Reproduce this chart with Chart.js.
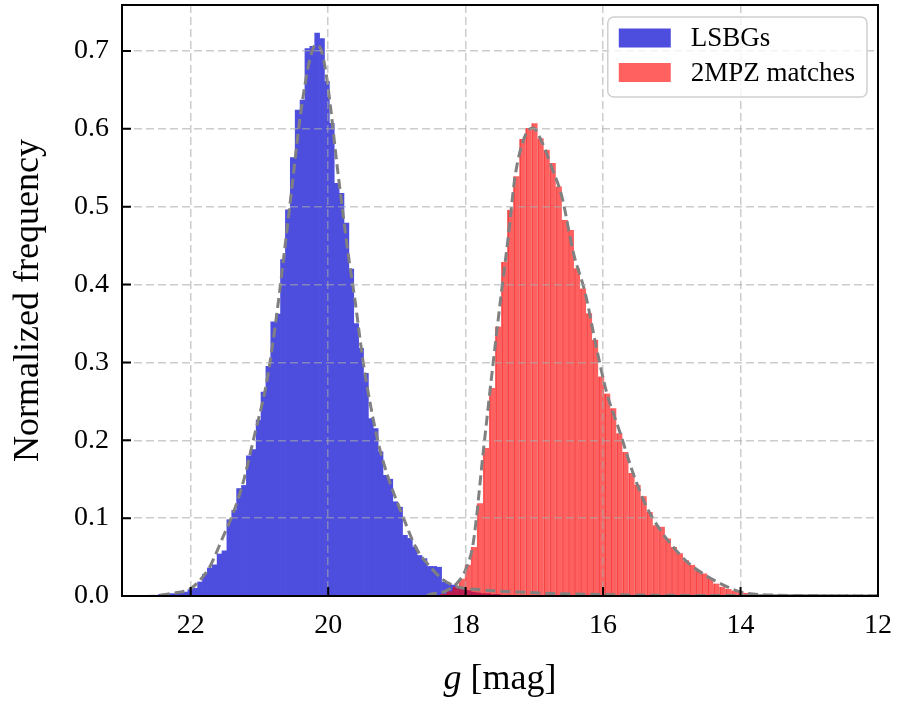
<!DOCTYPE html>
<html lang="en">
<head>
<meta charset="UTF-8">
<title>g magnitude distributions</title>
<script src="https://cdn.jsdelivr.net/npm/chart.js"></script>
<style>
  body { margin: 0; background: #fff; }
</style>
</head>
<body>
<canvas id="magChart" width="899" height="707"></canvas>
<script>
// LSBGs histogram: bins start at the faint end and step towards brighter mags
const lsbgStart = 22.61;
const lsbgBinWidth = 0.071;
const lsbgHeights = [
  0.001, 0.001, 0.002, 0.002, 0.003, 0.003, 0.004, 0.005, 0.008, 0.010,
  0.018, 0.028, 0.036, 0.040, 0.054, 0.058, 0.098, 0.110, 0.138, 0.142,
  0.180, 0.188, 0.226, 0.262, 0.295, 0.352, 0.362, 0.432, 0.496, 0.563,
  0.624, 0.637, 0.703, 0.706, 0.723, 0.716, 0.661, 0.607, 0.530, 0.517,
  0.479, 0.420, 0.350, 0.318, 0.286, 0.228, 0.215, 0.185, 0.155, 0.150,
  0.121, 0.114, 0.078, 0.074, 0.063, 0.052, 0.048, 0.038, 0.038, 0.037,
  0.018, 0.016, 0.014, 0.011, 0.009, 0.007, 0.005, 0.004, 0.003, 0.003,
  0.002, 0.002, 0.001, 0.001
];

// 2MPZ matches histogram
const mpzStart = 18.364;
const mpzBinWidth = 0.0882;
const mpzHeights = [
  0.003, 0.006, 0.012, 0.022, 0.040, 0.063, 0.119, 0.190, 0.267, 0.346,
  0.429, 0.496, 0.539, 0.587, 0.601, 0.607, 0.588, 0.573, 0.556, 0.526,
  0.483, 0.470, 0.421, 0.395, 0.363, 0.329, 0.282, 0.260, 0.241, 0.209,
  0.185, 0.158, 0.143, 0.128, 0.108, 0.091, 0.089, 0.074, 0.063, 0.055,
  0.046, 0.040, 0.033, 0.029, 0.023, 0.016, 0.012, 0.009, 0.007, 0.0055,
  0.004, 0.003, 0.002, 0.002, 0.0015, 0.001, 0.001, 0.001, 0.0008, 0.0005
];

// dashed density curves
const lsbgCurveMag = [22.45, 22.30, 22.01, 21.87, 21.72, 21.53, 21.385, 21.24, 21.09, 20.89,
  20.76, 20.56, 20.40, 20.27, 20.18, 20.09, 20.00, 19.86, 19.71, 19.61,
  19.49, 19.28, 19.13, 18.93, 18.71, 18.52, 18.33, 18.13, 17.79, 17.21,
  16.63, 15.75, 14.59, 13.14, 12.00];
const lsbgCurveVal = [0.001, 0.003, 0.009, 0.020, 0.038, 0.076, 0.106, 0.145, 0.200, 0.277,
  0.354, 0.500, 0.620, 0.688, 0.708, 0.698, 0.652, 0.545, 0.440, 0.380,
  0.300, 0.200, 0.153, 0.106, 0.060, 0.038, 0.021, 0.012, 0.008, 0.005,
  0.003, 0.0015, 0.0007, 0.0003, 0.0001];

const mpzCurveMag = [18.56, 18.52, 18.30, 18.11, 17.995, 17.89, 17.74, 17.60, 17.475, 17.38,
  17.28, 17.14, 17.02, 16.89, 16.75, 16.60, 16.43, 16.26, 16.09, 15.95,
  15.75, 15.565, 15.37, 15.17, 14.98, 14.78, 14.59, 14.40, 14.20, 14.01,
  13.82, 13.43, 12.84, 12.00];
const mpzCurveVal = [0.0005, 0.002, 0.006, 0.018, 0.035, 0.068, 0.188, 0.299, 0.393, 0.461,
  0.539, 0.590, 0.601, 0.583, 0.551, 0.513, 0.440, 0.389, 0.316, 0.262,
  0.209, 0.158, 0.115, 0.085, 0.063, 0.044, 0.031, 0.021, 0.012, 0.0055,
  0.0025, 0.001, 0.0005, 0.0003];

const seriesNames = ['LSBGs', '2MPZ matches'];

const serif = "'Liberation Serif', 'DejaVu Serif', serif";
const gridColor = 'rgba(170,170,170,0.6)';

function binPoints(start, width, heights) {
    return heights.map((h, i) => ({ x: start - (i + 0.5) * width, y: h }));
}

function curvePoints(mags, vals) {
    return mags.map((m, i) => ({ x: m, y: vals[i] }));
}

// frame, inward ticks, x title and the boxed legend
const decor = {
    id: 'decor',
    afterDraw(chart) {
        const ctx = chart.ctx;
        const area = chart.chartArea;
        const xs = chart.scales.x;
        const ys = chart.scales.y;
        ctx.save();

        ctx.strokeStyle = '#000';
        ctx.lineWidth = 2;
        ctx.beginPath();
        xs.ticks.forEach(t => {
            const px = xs.getPixelForValue(t.value);
            ctx.moveTo(px, area.bottom);
            ctx.lineTo(px, area.bottom - 9);
        });
        ys.ticks.forEach(t => {
            const py = ys.getPixelForValue(t.value);
            ctx.moveTo(area.left, py);
            ctx.lineTo(area.left + 9, py);
        });
        ctx.stroke();
        ctx.strokeRect(area.left, area.top, area.right - area.left, area.bottom - area.top);

        // x axis title: italic g followed by the unit
        ctx.fillStyle = '#000';
        ctx.textBaseline = 'middle';
        ctx.textAlign = 'left';
        const italic = 'italic 36px ' + serif;
        const upright = '36px ' + serif;
        ctx.font = italic;
        const wg = ctx.measureText('g').width;
        ctx.font = upright;
        const wu = ctx.measureText(' [mag]').width;
        const cx = (area.left + area.right) / 2;
        const ty = area.bottom + 84;
        ctx.font = italic;
        ctx.fillText('g', cx - (wg + wu) / 2, ty);
        ctx.font = upright;
        ctx.fillText(' [mag]', cx - (wg + wu) / 2 + wg, ty);

        // legend
        const bars = chart.data.datasets.filter(d => d.type !== 'line');
        const items = seriesNames.map(n => bars.find(d => d.label === n));
        ctx.font = '27px ' + serif;
        const textW = Math.max(...items.map(d => ctx.measureText(d.label).width));
        const boxW = 11 + 52 + 20 + textW + 12;
        const boxH = 80;
        const bx = area.right - 11 - boxW;
        const by = area.top + 12;
        ctx.beginPath();
        ctx.roundRect(bx, by, boxW, boxH, 6);
        ctx.fillStyle = 'rgba(255,255,255,0.8)';
        ctx.fill();
        ctx.strokeStyle = '#d0d0d0';
        ctx.lineWidth = 1.5;
        ctx.stroke();
        items.forEach((d, i) => {
            const rowY = by + 21 + i * 34.5;
            ctx.fillStyle = d.legendColor;
            ctx.fillRect(bx + 11, rowY - 9.5, 52, 19);
            ctx.fillStyle = '#000';
            ctx.fillText(d.label, bx + 11 + 52 + 20, rowY + 1);
        });

        ctx.restore();
    }
};

const ctx = document.getElementById('magChart').getContext('2d');
new Chart(ctx, {
    type: 'bar',
    data: {
        datasets: [
            {
                type: 'line',
                label: 'LSBGs density',
                data: curvePoints(lsbgCurveMag, lsbgCurveVal),
                xAxisID: 'x',
                borderColor: 'rgb(128,128,128)',
                borderWidth: 3,
                borderDash: [10, 5],
                pointRadius: 0,
                cubicInterpolationMode: 'monotone',
                fill: false,
                order: 0
            },
            {
                type: 'line',
                label: '2MPZ density',
                data: curvePoints(mpzCurveMag, mpzCurveVal),
                xAxisID: 'x',
                borderColor: 'rgb(128,128,128)',
                borderWidth: 3,
                borderDash: [10, 5],
                pointRadius: 0,
                cubicInterpolationMode: 'monotone',
                fill: false,
                order: 0
            },
            {
                label: seriesNames[1],
                data: binPoints(mpzStart, mpzBinWidth, mpzHeights),
                xAxisID: 'x2',
                backgroundColor: 'rgba(255,0,0,0.62)',
                legendColor: 'rgba(255,0,0,0.62)',
                borderColor: 'rgba(230,0,0,0.55)',
                borderWidth: { left: 1 },
                barPercentage: 1,
                categoryPercentage: 1,
                grouped: false,
                order: 1
            },
            {
                label: seriesNames[0],
                data: binPoints(lsbgStart, lsbgBinWidth, lsbgHeights),
                xAxisID: 'x',
                // opaque tint of mediumblue at 0.7 so neighbouring bins leave no seams
                backgroundColor: 'rgb(77,77,222)',
                legendColor: 'rgb(77,77,222)',
                borderWidth: 0,
                barPercentage: 1,
                categoryPercentage: 1,
                grouped: false,
                order: 2
            }
        ]
    },
    options: {
        responsive: false,
        animation: false,
        events: [],
        layout: { padding: { top: 5, right: 21, left: 0, bottom: 0 } },
        plugins: {
            legend: { display: false },
            tooltip: { enabled: false }
        },
        scales: {
            x: {
                type: 'linear',
                position: 'bottom',
                min: 12,
                max: 23,
                reverse: true,
                offset: false,
                ticks: {
                    stepSize: 2,
                    includeBounds: false,
                    maxRotation: 0,
                    padding: 13,
                    color: '#000',
                    font: { family: serif, size: 28 },
                    callback: v => String(v)
                },
                grid: { offset: false, color: gridColor, lineWidth: 1.5, drawTicks: false, z: 1 },
                border: { display: false, dash: [8, 4] },
                afterFit: s => { s.height = 111; s.paddingLeft = 0; s.paddingRight = 0; }
            },
            x2: {
                type: 'linear',
                display: false,
                min: 12,
                max: 23,
                reverse: true,
                offset: false
            },
            y: {
                min: 0,
                max: 0.759,
                ticks: {
                    stepSize: 0.1,
                    includeBounds: false,
                    padding: 13,
                    color: '#000',
                    font: { family: serif, size: 28 },
                    callback: v => v.toFixed(1)
                },
                grid: { color: gridColor, lineWidth: 1.5, drawTicks: false, z: 1 },
                border: { display: false, dash: [8, 4] },
                title: {
                    display: true,
                    text: 'Normalized frequency',
                    color: '#000',
                    font: { family: serif, size: 36 },
                    padding: { top: 7, bottom: 0 }
                },
                afterFit: s => { s.width = 122; s.paddingTop = 0; s.paddingBottom = 0; }
            }
        }
    },
    plugins: [decor]
});
</script>
</body>
</html>
